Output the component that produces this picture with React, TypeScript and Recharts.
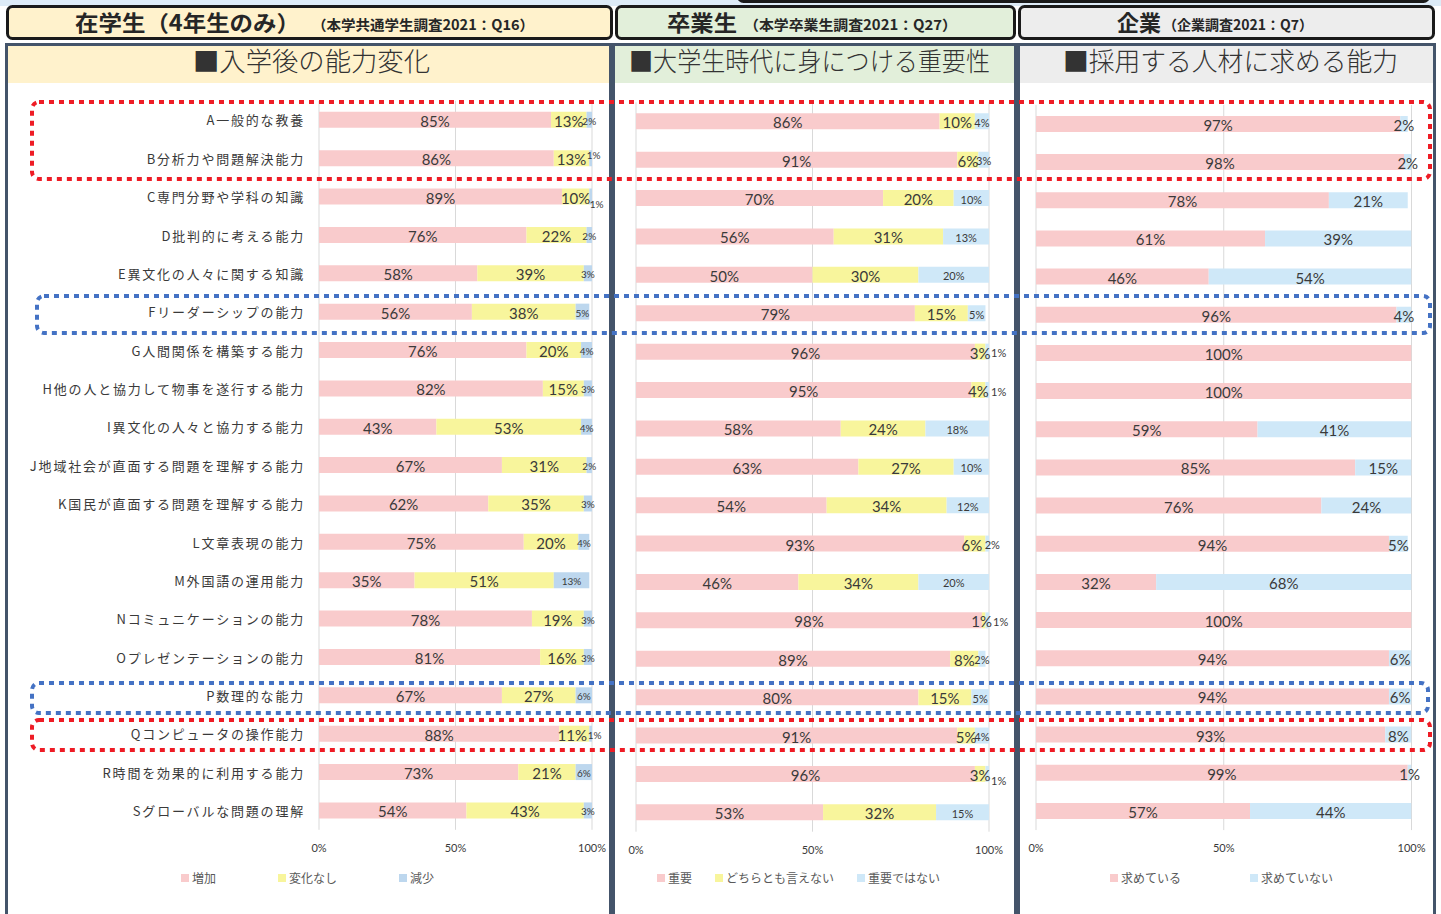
import React from 'react';
import { BarChart, Bar, XAxis, YAxis, CartesianGrid, Legend, LabelList } from 'recharts';

// ---------- data ----------
const categories = [
  'A一般的な教養',
  'B分析力や問題解決能力',
  'C専門分野や学科の知識',
  'D批判的に考える能力',
  'E異文化の人々に関する知識',
  'Fリーダーシップの能力',
  'G人間関係を構築する能力',
  'H他の人と協力して物事を遂行する能力',
  'I異文化の人々と協力する能力',
  'J地域社会が直面する問題を理解する能力',
  'K国民が直面する問題を理解する能力',
  'L文章表現の能力',
  'M外国語の運用能力',
  'Nコミュニケーションの能力',
  'Oプレゼンテーションの能力',
  'P数理的な能力',
  'Qコンピュータの操作能力',
  'R時間を効果的に利用する能力',
  'Sグローバルな問題の理解',
];

// 在学生（4年生のみ）: 入学後の能力変化
const studentIncrease = [85, 86, 89, 76, 58, 56, 76, 82, 43, 67, 62, 75, 35, 78, 81, 67, 88, 73, 54];
const studentNoChange = [13, 13, 10, 22, 39, 38, 20, 15, 53, 31, 35, 20, 51, 19, 16, 27, 11, 21, 43];
const studentDecrease = [2, 1, 1, 2, 3, 5, 4, 3, 4, 2, 3, 4, 13, 3, 3, 6, 1, 6, 3];

// 卒業生: 大学生時代に身につける重要性
const gradImportant = [86, 91, 70, 56, 50, 79, 96, 95, 58, 63, 54, 93, 46, 98, 89, 80, 91, 96, 53];
const gradNeutral = [10, 6, 20, 31, 30, 15, 3, 4, 24, 27, 34, 6, 34, 1, 8, 15, 5, 3, 32];
const gradNotImportant = [4, 3, 10, 13, 20, 5, 1, 1, 18, 10, 12, 2, 20, 1, 2, 5, 4, 1, 15];

// 企業: 採用する人材に求める能力
const corpWant = [97, 98, 78, 61, 46, 96, 100, 100, 59, 85, 76, 94, 32, 100, 94, 94, 93, 99, 57];
const corpNotWant = [2, 2, 21, 39, 54, 4, 0, 0, 41, 15, 24, 5, 68, 0, 6, 6, 8, 1, 44];

const tickValues = [0, 50, 100];

const studentNames = ['増加', '変化なし', '減少'];
const gradNames = ['重要', 'どちらとも言えない', '重要ではない'];
const corpNames = ['求めている', '求めていない'];

// ---------- styles ----------
const PINK = '#F9CBCC';
const YELLOW = '#F8F59C';
const BLUE1 = '#BDD7EE';
const BLUE2 = '#CFE8F8';
const JP = '"Noto Sans CJK JP", "Noto Sans", sans-serif';
const NUM = 'Lato, "Noto Sans CJK JP", sans-serif';
const TXT = '#3A3A3A';

// manual nudges of a few crowded data labels (series key - row index): [dx, dy]
const labelNudge: Record<string, [number, number]> = {
  's3-1': [3, -4],
  's3-2': [6, 6],
  's2-16': [-2, 0],
  's3-16': [4, 0],
  'g2-11': [-3, 0],
  'g3-11': [5, 0],
  'g2-13': [-2, 0],
  'g3-13': [2, 0],
  'g3-17': [0, 6],
};

const CHART_TOP = 90;
const CHART_H = 800;

const studentData = categories.map((name, i) => ({
  name,
  s1: studentIncrease[i],
  s2: studentNoChange[i],
  s3: studentDecrease[i],
}));
const gradData = categories.map((name, i) => ({
  name,
  g1: gradImportant[i],
  g2: gradNeutral[i],
  g3: gradNotImportant[i],
}));
const corpData = categories.map((name, i) => ({
  name,
  c1: corpWant[i],
  c2: corpNotWant[i],
}));

type SeriesDef = { key: string; name: string; color: string; labelSize: number; outside?: boolean };

function makeLabel(seriesKey: string, fontSize: number, outsideSmall?: boolean) {
  return (props: any) => {
    const { x, y, width, height, value, index } = props;
    if (!value) return null;
    const nx = Number(x);
    const ny = Number(y);
    const w = Number(width);
    const h = Number(height);
    let tx = nx + w / 2;
    let anchor: any = 'middle';
    if (outsideSmall && Number(value) <= 1) {
      tx = nx + w + 2;
      anchor = 'start';
    }
    const nudge = labelNudge[`${seriesKey}-${index}`] || [0, 0];
    return (
      <text
        x={tx + nudge[0]}
        y={ny + h / 2 + 1 + nudge[1]}
        textAnchor={anchor}
        dominantBaseline="central"
        fontSize={fontSize}
        fill={TXT}
        fontFamily={NUM}
      >
        {value}%
      </text>
    );
  };
}

const CatTick = (props: any) => {
  const { x, y, payload } = props;
  return (
    <text
      x={x}
      y={y}
      textAnchor="end"
      dominantBaseline="central"
      fontSize={13}
      fill={TXT}
      fontFamily={JP}
      style={{ letterSpacing: '1.8px' }}
    >
      {payload.value}
    </text>
  );
};

const XTick = (props: any) => {
  const { x, y, payload } = props;
  return (
    <text x={x} y={y} textAnchor="middle" dominantBaseline="central" fontSize={11} fill={TXT} fontFamily={NUM}>
      {payload.value}%
    </text>
  );
};

function makeLegend(series: SeriesDef[], gap: number) {
  return () => (
    <div
      style={{
        display: 'flex',
        gap,
        alignItems: 'center',
        fontFamily: JP,
        fontSize: 12,
        color: '#595959',
        whiteSpace: 'nowrap',
        lineHeight: '14px',
      }}
    >
      {series.map((s) => (
        <div key={s.key} style={{ display: 'flex', alignItems: 'center' }}>
          <span style={{ display: 'inline-block', width: 8, height: 8, background: s.color, marginRight: 3 }} />
          <span>{s.name}</span>
        </div>
      ))}
    </div>
  );
}

type PanelProps = {
  data: any[];
  series: SeriesDef[];
  left: number;
  width: number;
  margin: { top: number; right: number; left: number; bottom: number };
  showCats: boolean;
  tickMargin: number;
  legendLeft: number;
  legendGap: number;
};

function PanelChart({ data, series, left, width, margin, showCats, tickMargin, legendLeft, legendGap }: PanelProps) {
  return (
    <div style={{ position: 'absolute', left, top: CHART_TOP, width, height: CHART_H }}>
      <BarChart width={width} height={CHART_H} data={data} layout="vertical" margin={margin} barSize={16}>
        <CartesianGrid horizontal={false} stroke="#D9D9D9" />
        <XAxis
          type="number"
          domain={[0, 100]}
          ticks={tickValues}
          allowDataOverflow
          interval={0}
          axisLine={false}
          tickLine={false}
          tickSize={0}
          tickMargin={tickMargin}
          height={30}
          tick={<XTick />}
        />
        <YAxis
          type="category"
          dataKey="name"
          hide={!showCats}
          width={showCats ? 319 : 0}
          interval={0}
          axisLine={false}
          tickLine={false}
          tickSize={0}
          tickMargin={14}
          tick={<CatTick />}
        />
        {series.map((s) => (
          <Bar key={s.key} dataKey={s.key} name={s.name} stackId="s" fill={s.color} isAnimationActive={false}>
            <LabelList dataKey={s.key} content={makeLabel(s.key, s.labelSize, s.outside)} />
          </Bar>
        ))}
        <Legend
          layout="horizontal"
          verticalAlign="middle"
          align="center"
          wrapperStyle={{ left: legendLeft, top: 781, width: 'auto', height: 14 }}
          content={makeLegend(series, legendGap)}
        />
      </BarChart>
    </div>
  );
}

const studentSeries: SeriesDef[] = [
  { key: 's1', name: studentNames[0], color: PINK, labelSize: 15 },
  { key: 's2', name: studentNames[1], color: YELLOW, labelSize: 15 },
  { key: 's3', name: studentNames[2], color: BLUE1, labelSize: 10 },
];
const gradSeries: SeriesDef[] = [
  { key: 'g1', name: gradNames[0], color: PINK, labelSize: 15 },
  { key: 'g2', name: gradNames[1], color: YELLOW, labelSize: 15 },
  { key: 'g3', name: gradNames[2], color: BLUE2, labelSize: 11, outside: true },
];
const corpSeries: SeriesDef[] = [
  { key: 'c1', name: corpNames[0], color: PINK, labelSize: 15 },
  { key: 'c2', name: corpNames[1], color: BLUE2, labelSize: 15 },
];

function Background() {
  const hdr = '#1A1A1A';
  const border = '#44546A';
  const t = { fontFamily: JP, fill: '#262626' };
  return (
    <svg width={1441} height={914} style={{ position: 'absolute', left: 0, top: 0 }}>
      <rect x={0} y={0} width={1441} height={6} fill="#DDEBF7" />
      <rect x={738.5} y={-30} width={690} height={31.5} rx={5} fill="#DDEBF7" stroke={hdr} strokeWidth={3} />
      {/* header boxes */}
      <rect x={7.5} y={6.5} width={604} height={32} rx={5} fill="#FFF2CC" stroke={hdr} strokeWidth={3} />
      <rect x={616.5} y={6.5} width={398} height={32} rx={5} fill="#E2EFDA" stroke={hdr} strokeWidth={3} />
      <rect x={1019.5} y={6.5} width={414} height={32} rx={5} fill="#EDEDED" stroke={hdr} strokeWidth={3} />
      <text x={75} y={31} fontSize={22} fontWeight={700} textLength={225} lengthAdjust="spacingAndGlyphs" {...t}>
        在学生（4年生のみ）
      </text>
      <text x={312} y={30} fontSize={14} fontWeight={700} textLength={222} lengthAdjust="spacingAndGlyphs" {...t}>
        （本学共通学生調査2021：Q16）
      </text>
      <text x={667} y={31} fontSize={22} fontWeight={700} textLength={70} lengthAdjust="spacingAndGlyphs" {...t}>
        卒業生
      </text>
      <text x={744} y={30} fontSize={14} fontWeight={700} textLength={213} lengthAdjust="spacingAndGlyphs" {...t}>
        （本学卒業生調査2021：Q27）
      </text>
      <text x={1117} y={31} fontSize={22} fontWeight={700} textLength={44} lengthAdjust="spacingAndGlyphs" {...t}>
        企業
      </text>
      <text x={1163} y={30} fontSize={14} fontWeight={700} textLength={150} lengthAdjust="spacingAndGlyphs" {...t}>
        （企業調査2021：Q7）
      </text>
      {/* panels */}
      <rect x={8} y={46} width={601} height={37} fill="#FFF2CC" />
      <rect x={615} y={46} width={399} height={37} fill="#E2EFDA" />
      <rect x={1020} y={46} width={413} height={37} fill="#EDEDED" />
      <rect x={6.5} y={44.5} width={604} height={900} fill="none" stroke={border} strokeWidth={3} />
      <rect x={613.5} y={44.5} width={402} height={900} fill="none" stroke={border} strokeWidth={3} />
      <rect x={1018.5} y={44.5} width={416} height={900} fill="none" stroke={border} strokeWidth={3} />
      <text x={193} y={71} fontSize={26} fontWeight={300} textLength={237} lengthAdjust="spacingAndGlyphs" fontFamily={JP} fill="#333">
        ■入学後の能力変化
      </text>
      <text x={629} y={71} fontSize={26} fontWeight={300} textLength={361} lengthAdjust="spacingAndGlyphs" fontFamily={JP} fill="#333">
        ■大学生時代に身につける重要性
      </text>
      <text x={1063} y={71} fontSize={26} fontWeight={300} textLength={335} lengthAdjust="spacingAndGlyphs" fontFamily={JP} fill="#333">
        ■採用する人材に求める能力
      </text>
    </svg>
  );
}

function Highlights() {
  const red = '#EE1C25';
  const blue = '#4472C4';
  const common = { fill: 'none', strokeWidth: 4, strokeDasharray: '5 5', rx: 7 } as any;
  return (
    <svg width={1441} height={914} style={{ position: 'absolute', left: 0, top: 0, pointerEvents: 'none' }}>
      <rect x={32} y={102} width={1398} height={77} stroke={red} {...common} />
      <rect x={37} y={296} width={1393} height={37} stroke={blue} {...common} />
      <rect x={32} y={683} width={1396} height={30} stroke={blue} {...common} />
      <rect x={32} y={720} width={1398} height={30} stroke={red} {...common} />
    </svg>
  );
}

export default function App() {
  return (
    <div
      style={{
        position: 'absolute',
        left: 0,
        top: 0,
        width: 1441,
        height: 914,
        background: '#FFFFFF',
        overflow: 'hidden',
        fontFamily: JP,
      }}
    >
      <Background />
      <PanelChart
        data={studentData}
        series={studentSeries}
        left={0}
        width={612}
        margin={{ top: 10.8, right: 20, left: 0, bottom: 30.2 }}
        showCats
        tickMargin={17.2}
        legendLeft={181}
        legendGap={62}
      />
      <PanelChart
        data={gradData}
        series={gradSeries}
        left={613}
        width={404}
        margin={{ top: 12.3, right: 28, left: 23, bottom: 28.3 }}
        showCats={false}
        tickMargin={17.3}
        legendLeft={44}
        legendGap={23}
      />
      <PanelChart
        data={corpData}
        series={corpSeries}
        left={1017}
        width={420}
        margin={{ top: 14.9, right: 25.5, left: 19, bottom: 29.9 }}
        showCats={false}
        tickMargin={17}
        legendLeft={93}
        legendGap={69}
      />
      <Highlights />
    </div>
  );
}
